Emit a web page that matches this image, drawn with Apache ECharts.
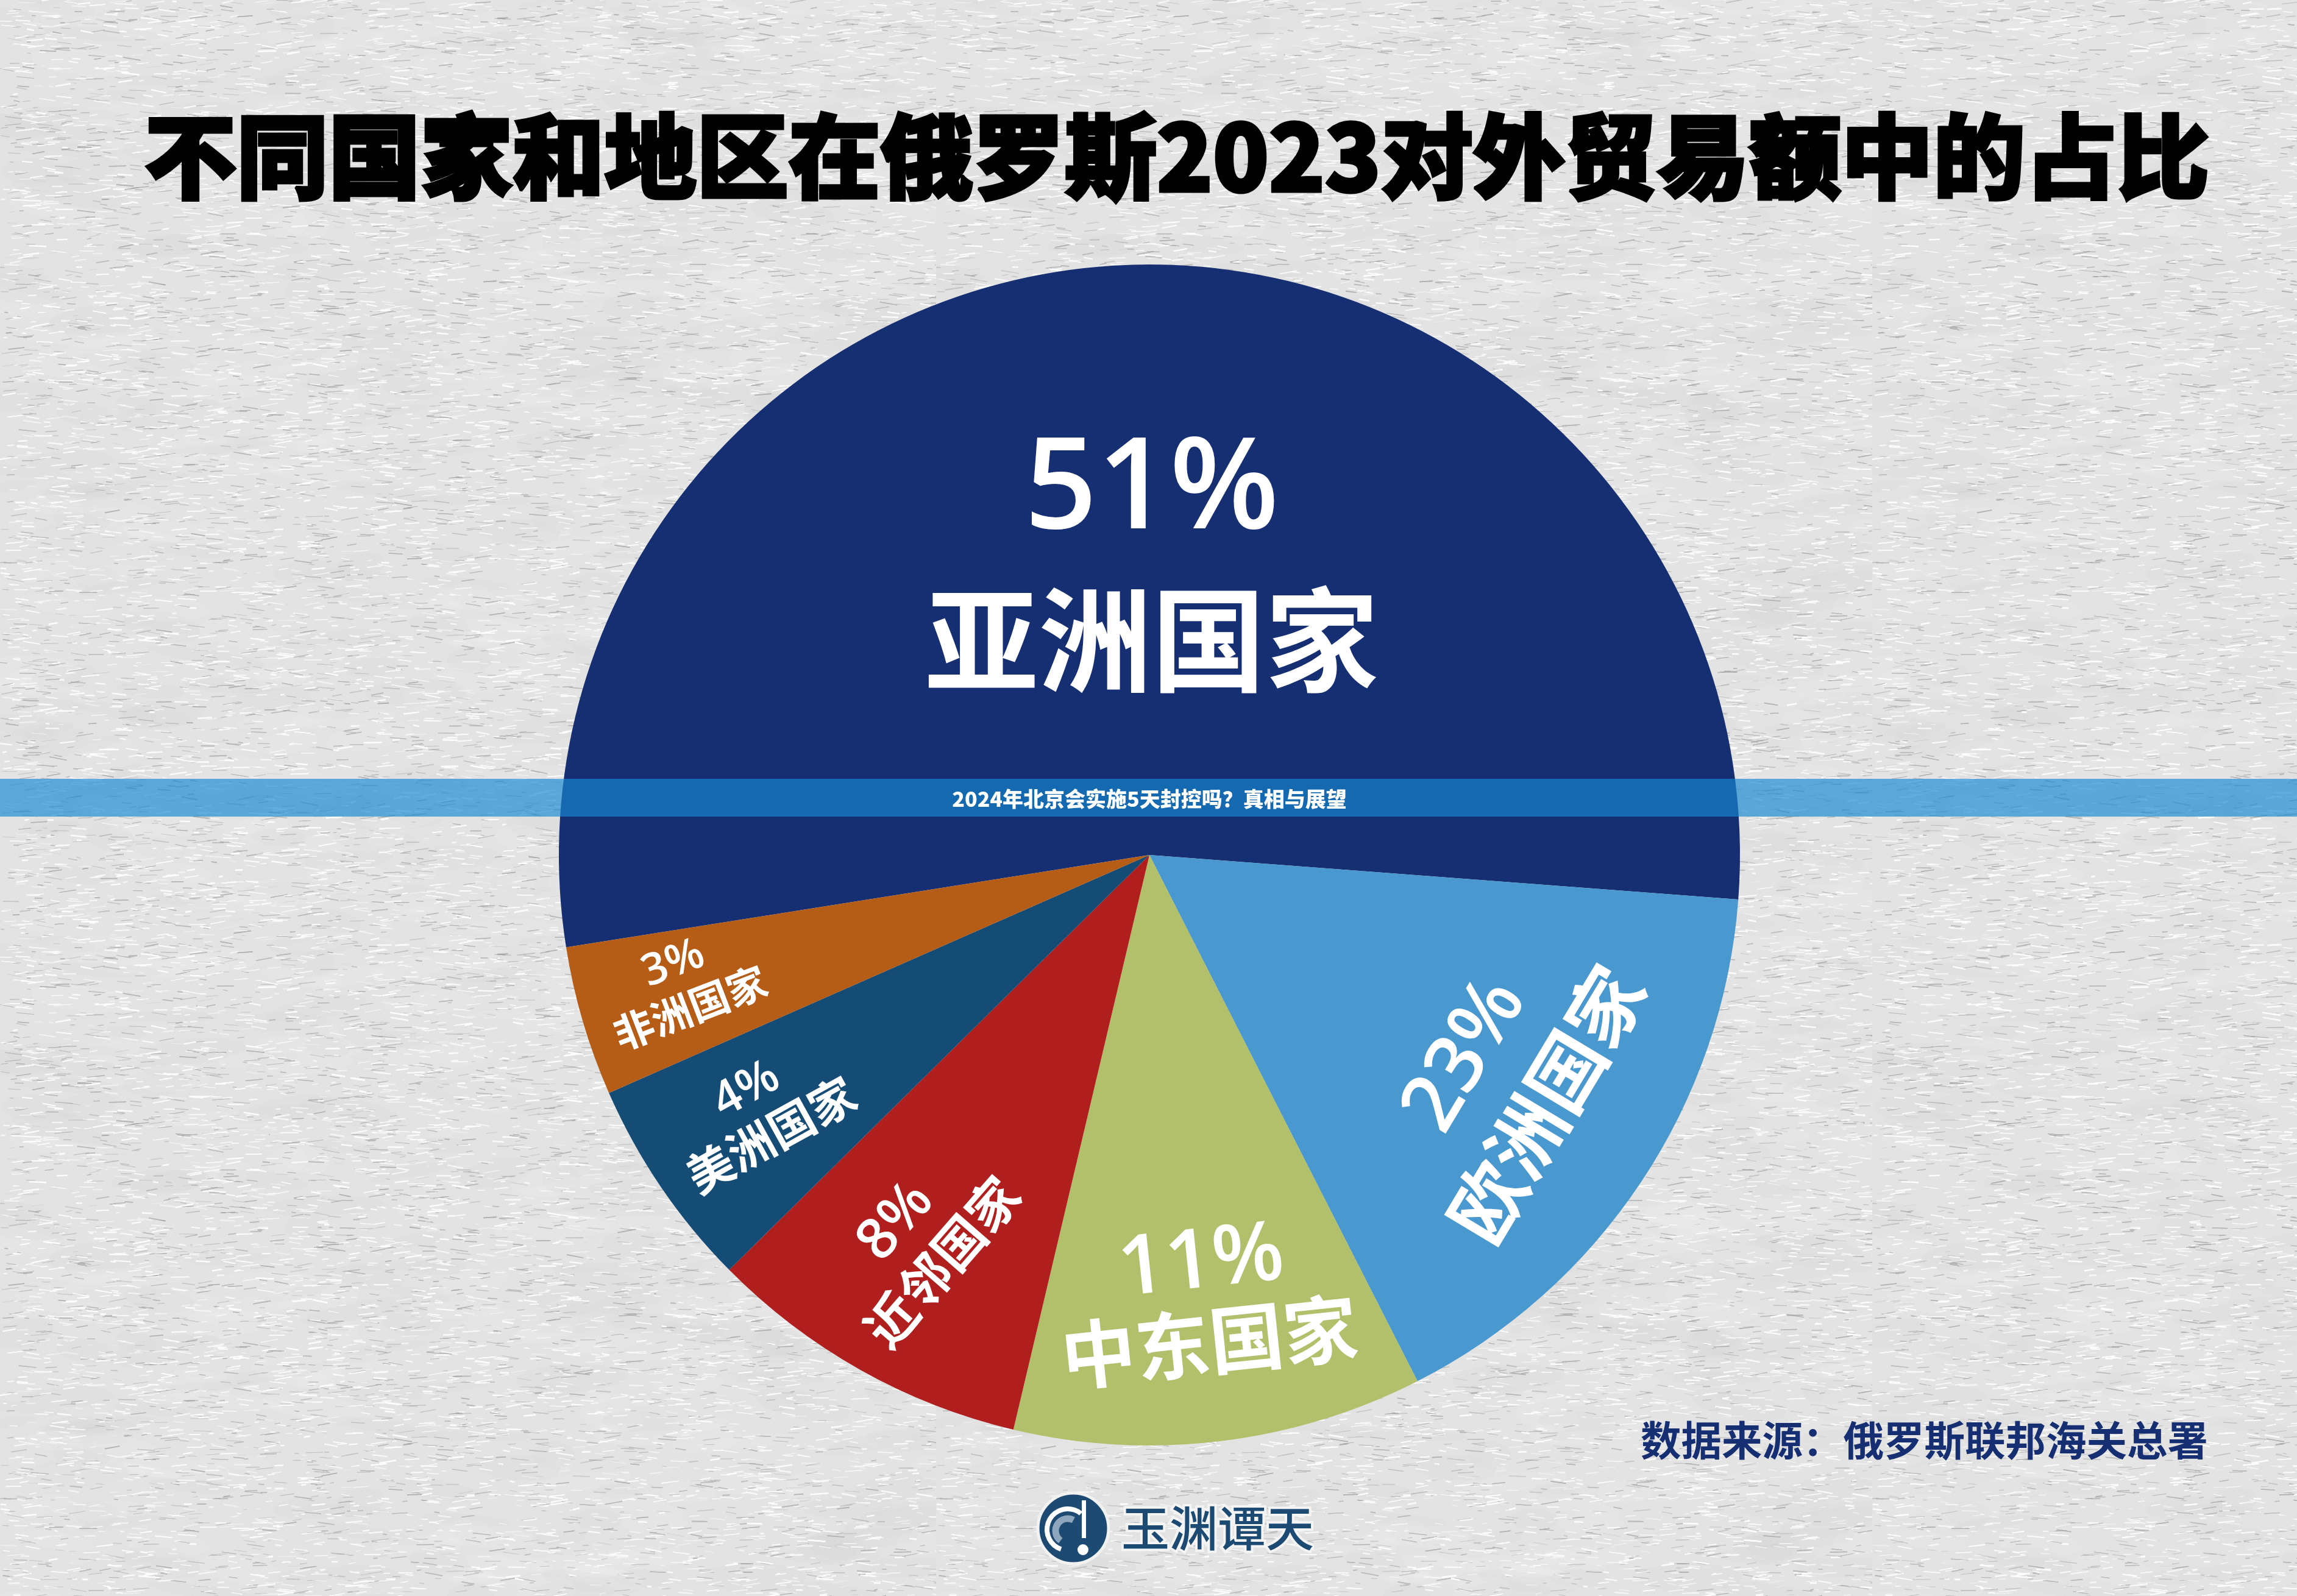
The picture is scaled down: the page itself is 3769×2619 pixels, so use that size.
<!DOCTYPE html>
<html>
<head>
<meta charset="utf-8">
<style>html,body{margin:0;padding:0;background:#e2e2e2}#chart{width:3769px;height:2619px}</style>
<script src="https://cdn.jsdelivr.net/npm/echarts@6/dist/echarts.min.js"></script>
</head>
<body>
<div id="chart"></div>
<script>
var regions = ['亚洲国家', '欧洲国家', '中东国家', '近邻国家', '美洲国家', '非洲国家'];
// the percentages printed on the picture
var printedPct = [51, 23, 11, 8, 4, 3];
// slice sizes as drawn in the picture (%), they are not the same as the printed numbers
var drawnShare = [53.7, 16.3, 11.2, 8.9, 5.8, 4.1];
var sliceColors = ['#162e72', '#4a98d0', '#b2c06c', '#b01e1e', '#154c76', '#b55c17'];

var titleText = '不同国家和地区在俄罗斯2023对外贸易额中的占比';
var bandText = '2024年北京会实施5天封控吗？真相与展望';
var sourceText = '数据来源：俄罗斯联邦海关总署';
var logoText = '玉渊谭天';

var cjk = '"Noto Sans CJK SC", sans-serif';
var latin = '"Open Sans", sans-serif';

// label look: x, y, rotate, percent size, name size, line gap, how far the percent line drops towards the name
var labelSpots = [
  { x: 1890, y: 922, rotate: 0, pct: 208, name: 186, gap: 257, drop: 14 },
  { x: 2471, y: 1772, rotate: 59, pct: 132, name: 125, gap: 154, drop: 0 },
  { x: 1977, y: 2132, rotate: 6, pct: 136, name: 122, gap: 140, drop: 11 },
  { x: 1508, y: 2038, rotate: 49, pct: 94, name: 84, gap: 100, drop: 0 },
  { x: 1243, y: 1822, rotate: 29, pct: 78, name: 76, gap: 92, drop: 8 },
  { x: 1118, y: 1616, rotate: 21, pct: 72, name: 66, gap: 81, drop: 4 }
];

// paper grain for the page background
function paperTile() {
  var size = 1536;
  var c = document.createElement('canvas');
  c.width = c.height = size;
  var ctx = c.getContext('2d');
  ctx.fillStyle = '#e3e3e3';
  ctx.fillRect(0, 0, size, size);
  var seed = 12345;
  function next() {
    seed = (seed * 1103515245 + 12345) % 2147483648;
    return seed / 2147483648;
  }
  var i, x, y;
  // soft blotches
  for (i = 0; i < 500; i++) {
    x = next() * size;
    y = next() * size;
    ctx.fillStyle = next() < 0.5 ? 'rgba(205,205,205,0.10)' : 'rgba(245,245,245,0.12)';
    ctx.beginPath();
    ctx.ellipse(x, y, 30 + next() * 70, 8 + next() * 16, (next() - 0.5) * 0.4, 0, Math.PI * 2);
    ctx.fill();
  }
  // fibres
  for (i = 0; i < 60000; i++) {
    x = next() * size;
    y = next() * size;
    var len = 6 + next() * 24;
    var ang = (next() - 0.5) * 0.4;
    var dark = next() < 0.4;
    ctx.strokeStyle = dark ? 'rgba(160,160,160,' + (0.05 + next() * 0.16) + ')' : 'rgba(255,255,255,' + (0.1 + next() * 0.3) + ')';
    ctx.lineWidth = dark ? 0.8 + next() * 0.8 : 1 + next() * 1.5;
    ctx.beginPath();
    ctx.moveTo(x, y);
    ctx.lineTo(x + Math.cos(ang) * len, y + Math.sin(ang) * len);
    ctx.stroke();
  }
  return c;
}

var chart = echarts.init(document.getElementById('chart'), null, { width: 3769, height: 2619 });

var pieData = regions.map(function (name, i) {
  var spot = labelSpots[i];
  return {
    name: name,
    value: drawnShare[i],
    itemStyle: { color: sliceColors[i] },
    label: {
      formatter: '{p|' + printedPct[i] + '%}\n{n|' + name + '}',
      rich: {
        p: { fontFamily: latin, fontWeight: 600, fontSize: spot.pct, lineHeight: spot.gap - 2 * spot.drop, color: '#fff' },
        n: { fontFamily: cjk, fontWeight: 700, fontSize: spot.name, lineHeight: spot.gap, color: '#fff' }
      }
    }
  };
});

var option = {
  animation: false,
  backgroundColor: { image: paperTile(), repeat: 'repeat' },
  title: {
    text: titleText,
    left: 1926,
    top: 176,
    textAlign: 'center',
    textStyle: {
      fontFamily: cjk,
      fontWeight: 900,
      fontSize: 151,
      color: '#000',
      textBorderColor: '#000',
      textBorderWidth: 5
    }
  },
  series: [{
    type: 'pie',
    center: [1886, 1403],
    radius: [0, 969],
    startAngle: 189,
    clockwise: true,
    silent: true,
    avoidLabelOverlap: false,
    label: { show: true, position: 'inside', color: '#fff' },
    labelLine: { show: false },
    labelLayout: function (params) {
      var spot = labelSpots[params.dataIndex];
      var rad = spot.rotate * Math.PI / 180;
      return {
        x: spot.x + Math.sin(rad) * spot.drop,
        y: spot.y + Math.cos(rad) * spot.drop,
        rotate: spot.rotate,
        align: 'center',
        verticalAlign: 'middle'
      };
    },
    data: pieData
  }],
  graphic: [
    { type: 'rect', z: 10, shape: { x: 0, y: 1278, width: 3769, height: 62 }, style: { fill: 'rgba(19,136,210,0.658)' } },
    { type: 'text', z: 11, x: 1886, y: 1311, style: { text: bandText, fontFamily: cjk, fontWeight: 900, fontSize: 34, fill: '#fff', align: 'center', verticalAlign: 'middle' } },
    { type: 'text', z: 11, x: 3623, y: 2364, style: { text: sourceText, fontFamily: cjk, fontWeight: 700, fontSize: 66.5, fill: '#162e72', align: 'right', verticalAlign: 'middle' } },
    // logo
    { type: 'circle', z: 11, shape: { cx: 1761, cy: 2508, r: 58 }, style: { fill: '#1c4a73', stroke: '#f2f2f2', lineWidth: 5 } },
    { type: 'arc', z: 12, shape: { cx: 1752, cy: 2510, r: 34, startAngle: 1.9, endAngle: 5.4 }, style: { stroke: '#fff', fill: 'none', lineWidth: 8 } },
    { type: 'arc', z: 12, shape: { cx: 1752, cy: 2512, r: 20, startAngle: 2.2, endAngle: 5.2 }, style: { stroke: '#8ea6bd', fill: 'none', lineWidth: 11 } },
    { type: 'rect', z: 12, shape: { x: 1775, y: 2462, width: 7, height: 62 }, style: { fill: '#fff' } },
    { type: 'circle', z: 12, shape: { cx: 1777, cy: 2543, r: 9 }, style: { fill: '#fff' } },
    { type: 'text', z: 11, x: 1998, y: 2508, style: { text: logoText, fontFamily: cjk, fontWeight: 500, fontSize: 79, fill: '#1c4a73', stroke: '#f4f4f4', lineWidth: 8, align: 'center', verticalAlign: 'middle' } }
  ]
};
chart.setOption(option);
</script>
</body>
</html>
